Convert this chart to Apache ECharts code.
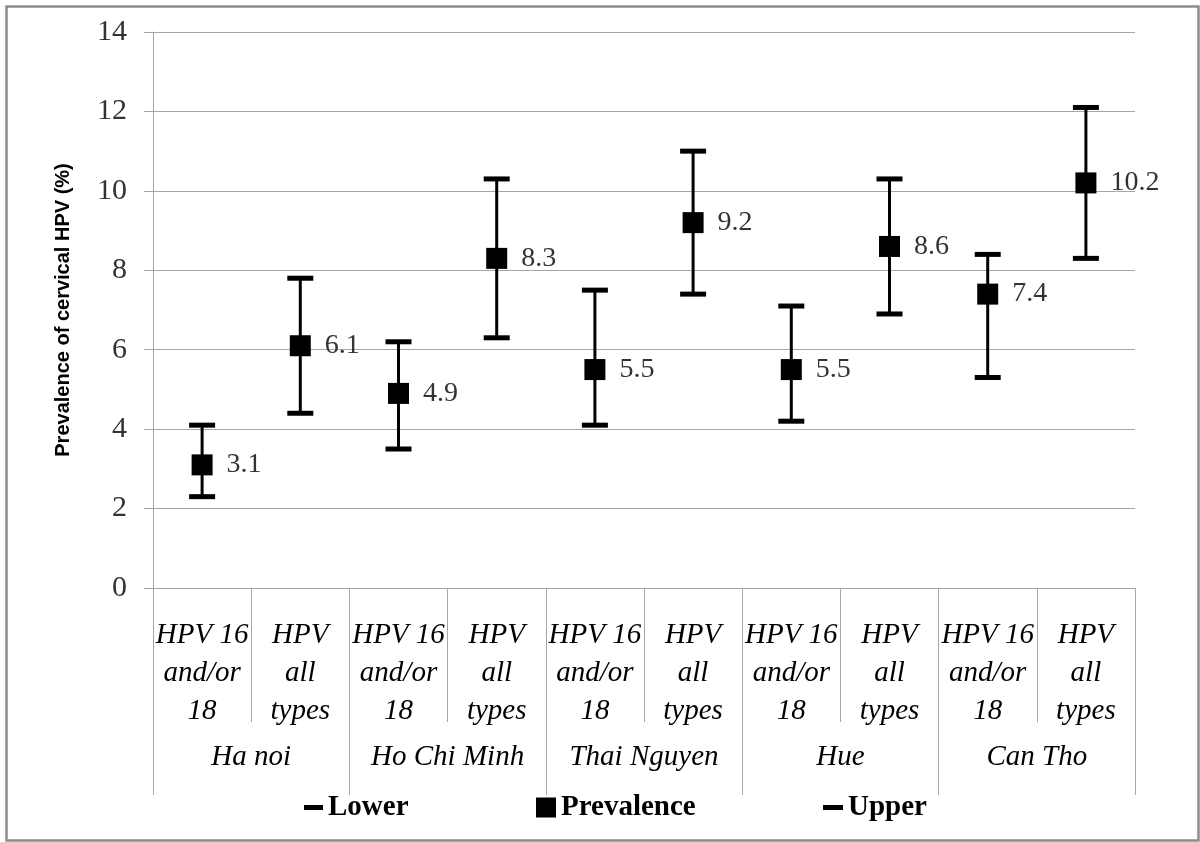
<!DOCTYPE html>
<html>
<head>
<meta charset="utf-8">
<script src="https://cdn.jsdelivr.net/npm/echarts@6/dist/echarts.min.js"></script>
<style>
html,body{margin:0;padding:0;background:#fff;}
#chart{width:1200px;height:842px;}
</style>
</head>
<body>
<div id="chart"></div>
<script>
const subLabels = ['HPV 16\nand/or\n18','HPV\nall\ntypes','HPV 16\nand/or\n18','HPV\nall\ntypes','HPV 16\nand/or\n18','HPV\nall\ntypes','HPV 16\nand/or\n18','HPV\nall\ntypes','HPV 16\nand/or\n18','HPV\nall\ntypes'];
const groups = ['Ha noi','Ho Chi Minh','Thai Nguyen','Hue','Can Tho'];
const prevalence = [3.1, 6.1, 4.9, 8.3, 5.5, 9.2, 5.5, 8.6, 7.4, 10.2];
const lower = [2.3, 4.4, 3.5, 6.3, 4.1, 7.4, 4.2, 6.9, 5.3, 8.3];
const upper = [4.1, 7.8, 6.2, 10.3, 7.5, 11.0, 7.1, 10.3, 8.4, 12.1];
const seriesNames = ['Lower','Prevalence','Upper'];
const yAxisTitle = 'Prevalence of cervical HPV (%)';

const serif = '"Liberation Serif", "Times New Roman", serif';
const gridGray = '#a6a6a6';
const catKeys = subLabels.map((_, i) => 'c' + i);

const chart = echarts.init(document.getElementById('chart'), null, {renderer: 'canvas'});
chart.setOption({
  backgroundColor: '#fff',
  animation: false,
  graphic: [{
    type: 'rect', left: 4, top: 4, shape: {width: 1192, height: 834},
    style: {fill: 'none', stroke: '#8c8c8c', lineWidth: 2.5}, silent: true
  }],
  grid: {left: 153, right: 65, top: 32, bottom: 254, containLabel: false},
  legend: [
    {data: [seriesNames[0]], left: 299, top: 788, icon: 'rect', itemWidth: 19, itemHeight: 5,
     textStyle: {fontFamily: serif, fontWeight: 'bold', fontSize: 29, color: '#000'}},
    {data: [seriesNames[1]], left: 531, top: 788, icon: 'rect', itemWidth: 20, itemHeight: 20,
     textStyle: {fontFamily: serif, fontWeight: 'bold', fontSize: 29, color: '#000'}},
    {data: [seriesNames[2]], left: 818, top: 788, icon: 'rect', itemWidth: 20, itemHeight: 5,
     textStyle: {fontFamily: serif, fontWeight: 'bold', fontSize: 29, color: '#000'}}
  ],
  xAxis: [
    {
      type: 'category', data: catKeys, position: 'bottom', boundaryGap: true,
      axisLine: {show: true, lineStyle: {color: gridGray, width: 1}},
      axisTick: {show: true, interval: 0, length: 134, lineStyle: {color: gridGray, width: 1}},
      axisLabel: {
        interval: 0, margin: 28, fontFamily: serif, fontStyle: 'italic', fontSize: 29,
        lineHeight: 38, color: '#000',
        formatter: (v, i) => subLabels[i]
      },
      splitLine: {show: false}
    },
    {
      type: 'category', data: groups, position: 'bottom', boundaryGap: true,
      axisLine: {show: false},
      axisTick: {show: true, interval: 0, length: 207, lineStyle: {color: gridGray, width: 1}},
      axisLabel: {interval: 0, margin: 151, fontFamily: serif, fontStyle: 'italic', fontSize: 29,
        lineHeight: 36, color: '#000'},
      splitLine: {show: false}
    }
  ],
  yAxis: {
    type: 'value', min: 0, max: 14, interval: 2,
    name: yAxisTitle, nameLocation: 'middle', nameGap: 80, nameRotate: 90,
    nameTextStyle: {fontFamily: '"Liberation Sans", Arial, sans-serif', fontWeight: 'bold', fontSize: 20, color: '#000'},
    axisLine: {show: true, lineStyle: {color: gridGray, width: 1}},
    axisTick: {show: true, length: 9, lineStyle: {color: gridGray}},
    axisLabel: {margin: 26, fontFamily: serif, fontSize: 30, color: '#333'},
    splitLine: {show: true, lineStyle: {color: gridGray, width: 1}}
  },
  series: [
    {
      type: 'custom', name: 'range', xAxisIndex: 0, silent: true,
      data: lower.map((lo, i) => [i, lo, upper[i]]),
      encode: {x: 0, y: [1, 2]},
      renderItem: function (params, api) {
        const p1 = api.coord([api.value(0), api.value(1)]);
        const p2 = api.coord([api.value(0), api.value(2)]);
        return {type: 'line', shape: {x1: p1[0], y1: p1[1], x2: p2[0], y2: p2[1]},
          style: {stroke: '#000', lineWidth: 3}};
      },
      z: 2
    },
    {
      type: 'scatter', name: seriesNames[0], xAxisIndex: 0, symbol: 'rect', symbolSize: [26, 5],
      itemStyle: {color: '#000', opacity: 1}, data: lower.map((v, i) => [i, v]), z: 3
    },
    {
      type: 'scatter', name: seriesNames[2], xAxisIndex: 0, symbol: 'rect', symbolSize: [26, 5],
      itemStyle: {color: '#000', opacity: 1}, data: upper.map((v, i) => [i, v]), z: 3
    },
    {
      type: 'scatter', name: seriesNames[1], xAxisIndex: 0, symbol: 'rect', symbolSize: 21,
      itemStyle: {color: '#000', opacity: 1}, data: prevalence.map((v, i) => [i, v]), z: 4,
      label: {show: true, position: 'right', distance: 14, fontFamily: serif, fontSize: 28, color: '#333',
        formatter: p => p.value[1].toFixed(1)}
    }
  ]
});
</script>
</body>
</html>
